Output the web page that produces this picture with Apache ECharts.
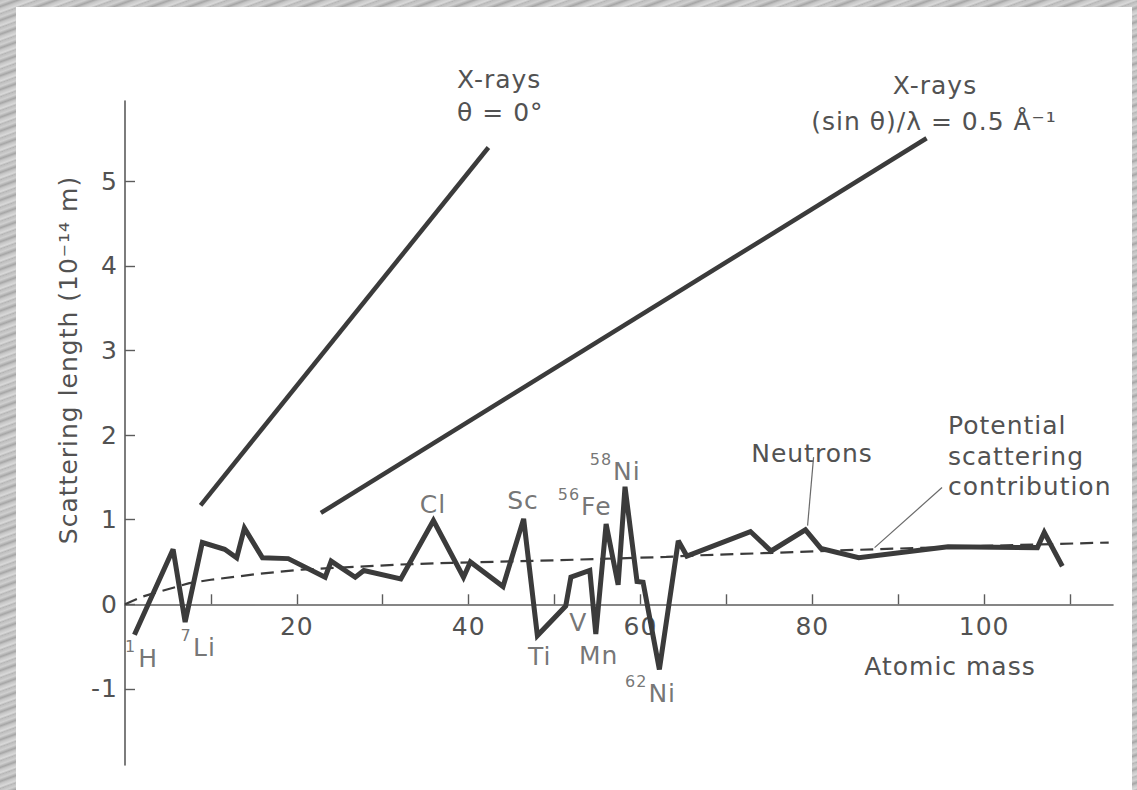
<!DOCTYPE html>
<html>
<head>
<meta charset="utf-8">
<script src="https://cdn.jsdelivr.net/npm/echarts@6/dist/echarts.min.js"></script>
<style>
  html, body { margin: 0; padding: 0; width: 1137px; height: 790px; overflow: hidden; }
  body {
    background-color: #c2c2c2;
    background-image: repeating-linear-gradient(-20deg, #b3b3b3 0px, #d9d9d9 2px, #c6c6c6 5px, #a6a6a6 7px, #d0d0d0 10px, #bdbdbd 13px);
  }
  #panel { position: absolute; left: 16px; top: 7px; width: 1116px; height: 783px; background: #ffffff; }
  #chart { position: absolute; left: 0; top: 0; width: 1137px; height: 790px; }
  #chart text { letter-spacing: 1px; }
</style>
</head>
<body>
<div id="panel"></div>
<div id="chart"></div>
<script>
// Neutron coherent scattering length against atomic mass (units of 1e-14 m)
const neutronMass   = [1.1, 5.6, 7.0, 9.0, 11.6, 13.0, 13.9, 16.0, 19.0, 23.3, 24.0, 26.8, 27.8, 32.1, 35.9, 39.4, 40.2, 44.0, 46.4, 48.0, 51.3, 51.9, 54.1, 54.8, 56.0, 57.4, 58.2, 59.6, 60.3, 62.2, 64.4, 65.4, 72.8, 75.2, 79.2, 81.0, 85.4, 95.8, 106.2, 107.0, 109.1];
const neutronLength = [-0.36, 0.65, -0.21, 0.73, 0.65, 0.55, 0.90, 0.55, 0.54, 0.32, 0.51, 0.32, 0.40, 0.30, 0.99, 0.32, 0.50, 0.21, 1.01, -0.37, -0.02, 0.32, 0.40, -0.35, 0.95, 0.23, 1.39, 0.27, 0.26, -0.77, 0.75, 0.57, 0.86, 0.63, 0.88, 0.66, 0.55, 0.68, 0.67, 0.85, 0.45];

// Potential scattering contribution
const potentialMass   = [0, 2, 4, 7.5, 10, 15.6, 20.6, 32, 38, 50, 63, 67, 76, 84, 100, 114.5];
const potentialLength = [0, 0.09, 0.15, 0.25, 0.29, 0.36, 0.41, 0.47, 0.49, 0.52, 0.56, 0.58, 0.61, 0.64, 0.69, 0.73];

// X-ray scattering lengths
const xrayForwardMass   = [8.8, 42.3];
const xrayForwardLength = [1.17, 5.40];
const xrayHalfMass      = [22.8, 93.3];
const xrayHalfLength    = [1.08, 5.51];

// Axis ticks and labels
const xTickValues  = [10, 20, 30, 40, 50, 60, 70, 80, 90, 100, 110];
const xLabelValues = [20, 40, 60, 80, 100];
const yTickValues  = [-1, 0, 1, 2, 3, 4, 5];

// Isotope / element tags placed beside the neutron curve
const tagMassNumber = ['1', '7', '', '', '56', '58', '', '', '', '62'];
const tagSymbol     = ['H', 'Li', 'Cl', 'Sc', 'Fe', 'Ni', 'Ti', 'V', 'Mn', 'Ni'];
const tagX          = [1.93, 8.49, 35.85, 46.33, 53.5, 57.06, 48.27, 52.76, 55.13, 61.17];
const tagY          = [-0.645, -0.51, 1.18, 1.23, 1.157, 1.57, -0.62, -0.214, -0.61, -1.05];

// Leader lines from the text notes to the curves
const neutronLeaderMass     = [80.15, 79.45];
const neutronLeaderLength   = [1.74, 0.93];
const potentialLeaderMass   = [95.1, 87.25];
const potentialLeaderLength = [1.38, 0.67];

const zip = (xs, ys) => xs.map((x, i) => [x, ys[i]]);

const FONT = "'DejaVu Sans', sans-serif";
const TEXT = '#525252';
const INK = '#3b3b3b';
const AXIS = '#5c5c5c';

const Y_MIN = -1.9, Y_MAX = 5.95;
const GRID = { left: 125, right: 24, top: 101, bottom: 25 };
// pixel distance from the bottom of the plot up to the zero line, used to lift the mass axis
const plotHeight = 790 - GRID.top - GRID.bottom;
const zeroLift = plotHeight * (0 - Y_MIN) / (Y_MAX - Y_MIN);

const mainStyle = { fontSize: 25, lineHeight: 40, fontFamily: FONT, color: TEXT };
const supStyle  = { fontSize: 16, lineHeight: 16, fontFamily: FONT, color: TEXT, verticalAlign: 'top', padding: [0, 3, 0, 0] };

const chart = echarts.init(document.getElementById('chart'), null, { renderer: 'svg' });

chart.setOption({
  animation: false,
  backgroundColor: 'transparent',
  grid: Object.assign({ containLabel: false }, GRID),
  xAxis: {
    type: 'value', min: 0, max: 115, position: 'bottom', offset: -zeroLift,
    axisLine: { show: true, onZero: false, lineStyle: { color: AXIS, width: 1.6 } },
    axisTick: { show: true, inside: true, length: 10, customValues: xTickValues, lineStyle: { color: AXIS, width: 1.4 } },
    axisLabel: { customValues: xLabelValues, margin: 10, fontSize: 25, fontFamily: FONT, color: TEXT },
    splitLine: { show: false }
  },
  yAxis: {
    type: 'value', min: Y_MIN, max: Y_MAX,
    axisLine: { show: true, onZero: false, lineStyle: { color: AXIS, width: 1.6 } },
    axisTick: { show: true, inside: true, length: 10, customValues: yTickValues, lineStyle: { color: AXIS, width: 1.4 } },
    axisLabel: { customValues: yTickValues, margin: 7, fontSize: 25, fontFamily: FONT, color: TEXT },
    splitLine: { show: false }
  },
  series: [
    {
      name: 'Potential scattering contribution', type: 'line', symbol: 'none',
      data: zip(potentialMass, potentialLength),
      lineStyle: { color: INK, width: 2.2, type: [13, 7] }, z: 2
    },
    {
      name: 'Neutrons', type: 'line', symbol: 'none',
      data: zip(neutronMass, neutronLength),
      lineStyle: { color: INK, width: 5, join: 'miter', miterLimit: 3 }, z: 3
    },
    {
      name: 'X-rays θ = 0°', type: 'line', symbol: 'none',
      data: zip(xrayForwardMass, xrayForwardLength),
      lineStyle: { color: INK, width: 4.5 }, z: 3
    },
    {
      name: 'X-rays (sin θ)/λ = 0.5 Å⁻¹', type: 'line', symbol: 'none',
      data: zip(xrayHalfMass, xrayHalfLength),
      lineStyle: { color: INK, width: 4.5 }, z: 3
    },
    {
      name: 'Neutrons leader', type: 'line', symbol: 'none',
      data: zip(neutronLeaderMass, neutronLeaderLength),
      lineStyle: { color: '#6a6a6a', width: 1.2 }, z: 2
    },
    {
      name: 'Potential leader', type: 'line', symbol: 'none',
      data: zip(potentialLeaderMass, potentialLeaderLength),
      lineStyle: { color: '#6a6a6a', width: 1.2 }, z: 2
    },
    {
      name: 'Tags', type: 'scatter', symbolSize: 0, silent: true, z: 5,
      data: tagSymbol.map((s, i) => ({ value: [tagX[i], tagY[i]], name: s })),
      label: {
        show: true, position: 'inside',
        formatter: p => (tagMassNumber[p.dataIndex] ? '{s|' + tagMassNumber[p.dataIndex] + '}' : '') + '{m|' + p.name + '}',
        rich: { m: mainStyle, s: supStyle }
      }
    }
  ],
  graphic: [
    {
      type: 'text', x: 68, y: 360, rotation: Math.PI / 2,
      style: { text: 'Scattering length (10⁻¹⁴ m)', fontSize: 25, fontFamily: FONT, fill: TEXT, align: 'center', verticalAlign: 'middle' }
    },
    {
      type: 'text', x: 457, y: 79,
      style: { text: 'X-rays', fontSize: 25, fontFamily: FONT, fill: TEXT, align: 'left', verticalAlign: 'middle' }
    },
    {
      type: 'text', x: 457, y: 112,
      style: { text: 'θ = 0°', fontSize: 25, fontFamily: FONT, fill: TEXT, align: 'left', verticalAlign: 'middle' }
    },
    {
      type: 'text', x: 935, y: 85,
      style: { text: 'X-rays', fontSize: 25, fontFamily: FONT, fill: TEXT, align: 'center', verticalAlign: 'middle' }
    },
    {
      type: 'text', x: 934, y: 121,
      style: { text: '(sin θ)/λ = 0.5 Å⁻¹', fontSize: 25, fontFamily: FONT, fill: TEXT, align: 'center', verticalAlign: 'middle' }
    },
    {
      type: 'text', x: 812, y: 453,
      style: { text: 'Neutrons', fontSize: 25, fontFamily: FONT, fill: TEXT, align: 'center', verticalAlign: 'middle' }
    },
    {
      type: 'text', x: 948, y: 456,
      style: { text: 'Potential\nscattering\ncontribution', fontSize: 25, lineHeight: 30.5, fontFamily: FONT, fill: TEXT, align: 'left', verticalAlign: 'middle' }
    },
    {
      type: 'text', x: 950, y: 666,
      style: { text: 'Atomic mass', fontSize: 25, fontFamily: FONT, fill: TEXT, align: 'center', verticalAlign: 'middle' }
    }
  ]
});
</script>
</body>
</html>
